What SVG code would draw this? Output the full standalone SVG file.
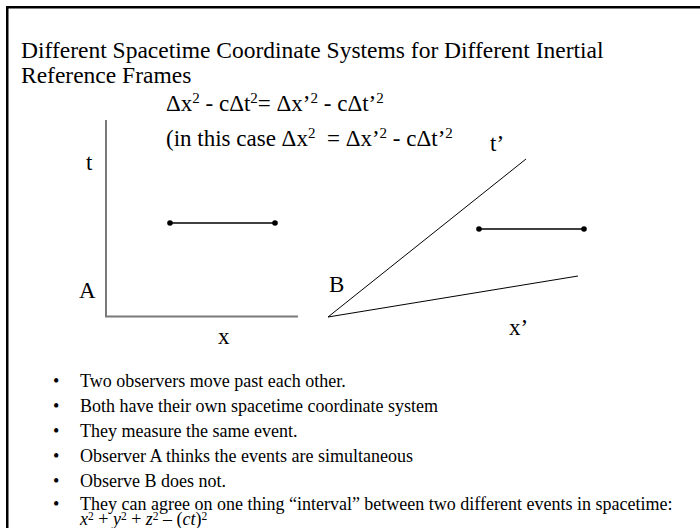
<svg xmlns="http://www.w3.org/2000/svg" width="700" height="528" viewBox="0 0 700 528">
<style>
text { font-family: "Liberation Serif", "Times New Roman", serif; fill: #000; }
.title { font-size: 23.5px; }
.eq { font-size: 23px; }
.lbl { font-size: 23px; }
.bul { font-size: 18px; }
.axisA { stroke: #7a7a7a; stroke-width: 2; fill: none; }
.axisB { stroke: #000; stroke-width: 1; fill: none; }
.ev { stroke: #000; stroke-width: 1.5; }
.dot { fill: #000; }
</style>
<rect x="0" y="0" width="700" height="528" fill="#fff"/>
<rect x="7.25" y="7.25" width="720" height="540" fill="none" stroke="#000" stroke-width="2.5"/>

<g id="title">
<text class="title" x="21" y="58">Different Spacetime Coordinate Systems for Different Inertial</text>
<text class="title" x="21" y="83">Reference Frames</text>
</g>

<g id="equations">
<text class="eq" x="166" y="111">Δx<tspan dy="-8" font-size="15">2</tspan><tspan dy="8"> - cΔt</tspan><tspan dy="-8" font-size="15">2</tspan><tspan dy="8">= Δx’</tspan><tspan dy="-8" font-size="15">2</tspan><tspan dy="8"> - cΔt’</tspan><tspan dy="-8" font-size="15">2</tspan></text>
<text class="eq" x="166" y="146" xml:space="preserve">(in this case Δx<tspan dy="-8" font-size="15">2</tspan><tspan dy="8">  = Δx’</tspan><tspan dy="-8" font-size="15">2</tspan><tspan dy="8"> - cΔt’</tspan><tspan dy="-8" font-size="15">2</tspan></text>
</g>

<g id="frameA">
<path class="axisA" d="M106,120 V316.5 H298"/>
<text class="lbl" x="86" y="170">t</text>
<text class="lbl" x="79" y="298">A</text>
<text class="lbl" x="218" y="344">x</text>
</g>

<g id="frameB">
<path class="axisB" d="M526,159 L328,317 L578,276"/>
<text class="lbl" x="329" y="292">B</text>
<text class="lbl" x="490" y="151">t’</text>
<text class="lbl" x="509" y="335">x’</text>
</g>

<g id="connectors">
<g id="eventsA">
<line class="ev" x1="170" y1="223" x2="275" y2="223"/>
<circle class="dot" cx="170" cy="223" r="2.8"/>
<circle class="dot" cx="275" cy="223" r="2.8"/>
</g>
<g id="eventsB">
<line class="ev" x1="479" y1="229" x2="584" y2="229"/>
<circle class="dot" cx="479" cy="229" r="2.8"/>
<circle class="dot" cx="584" cy="229" r="2.8"/>
</g>
</g>

<g id="bullets">
<text class="bul" x="53" y="387">•</text><text class="bul" x="80" y="387">Two observers move past each other.</text>
<text class="bul" x="53" y="412">•</text><text class="bul" x="80" y="412">Both have their own spacetime coordinate system</text>
<text class="bul" x="53" y="437">•</text><text class="bul" x="80" y="437">They measure the same event.</text>
<text class="bul" x="53" y="462">•</text><text class="bul" x="80" y="462">Observer A thinks the events are simultaneous</text>
<text class="bul" x="53" y="487">•</text><text class="bul" x="80" y="487">Observe B does not.</text>
<text class="bul" x="53" y="509.5">•</text><text class="bul" x="80" y="509.5">They can agree on one thing “interval” between two different events in spacetime:</text>
<text class="bul" x="80" y="525"><tspan font-style="italic">x</tspan><tspan dy="-5" font-size="11.5">2</tspan><tspan dy="5"> + </tspan><tspan font-style="italic">y</tspan><tspan dy="-5" font-size="11.5">2</tspan><tspan dy="5"> + </tspan><tspan font-style="italic">z</tspan><tspan dy="-5" font-size="11.5">2</tspan><tspan dy="5"> – (</tspan><tspan font-style="italic">ct</tspan><tspan>)</tspan><tspan dy="-5" font-size="11.5">2</tspan></text>
</g>
</svg>
